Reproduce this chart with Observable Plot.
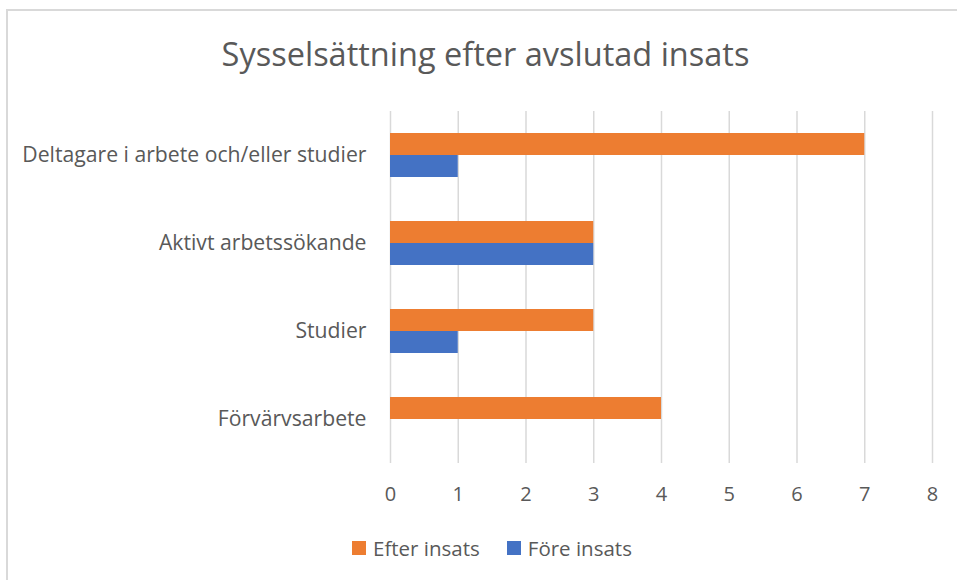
<!DOCTYPE html>
<html>
<head>
<meta charset="utf-8">
<script src="https://cdn.jsdelivr.net/npm/d3@7"></script>
<script src="https://cdn.jsdelivr.net/npm/@observablehq/plot@0.6"></script>
<style>
  html, body { margin: 0; padding: 0; background: #fff; }
  body { width: 957px; height: 580px; position: relative; overflow: hidden; font-family: "Open Sans", sans-serif; color: #595959; }
  #frame { position: absolute; left: 6px; top: 9px; width: 1000px; height: 700px; border: 2px solid #d9d9d9; box-sizing: border-box; }
  #title { position: absolute; left: 0; width: 971px; top: 33px; text-align: center; font-size: 32.5px; line-height: 42px; color: #595959; }
  #chart { position: absolute; left: 0; top: 100px; }
  #legend { position: absolute; left: 352px; top: 537px; display: flex; align-items: center; font-size: 20.5px; line-height: 22px; }
  .item { display: flex; align-items: center; margin-right: 27px; }
  .sw { width: 14px; height: 14px; margin-right: 7px; }
  #chart svg g[aria-label="fy-axis tick label"] { font-size: 21.2px; }
</style>
</head>
<body>
<div id="frame"></div>
<div id="title">Sysselsättning efter avslutad insats</div>
<div id="chart"></div>
<div id="legend"></div>
<script>
const categories = ["Deltagare i arbete och/eller studier", "Aktivt arbetssökande", "Studier", "Förvärvsarbete"];
const seriesNames = ["Efter insats", "Före insats"];
const efterInsats = [7, 3, 3, 4];
const foreInsats = [1, 3, 1, 0];
const xTicks = [0, 1, 2, 3, 4, 5, 6, 7, 8];
const seriesColors = ["#ED7D31", "#4472C4"];

const data = categories.flatMap((c, i) => [
  {category: c, series: seriesNames[0], value: efterInsats[i]},
  {category: c, series: seriesNames[1], value: foreInsats[i]}
]);

const chart = Plot.plot({
  width: 957,
  height: 420,
  marginLeft: 390,
  marginRight: 25,
  marginTop: 10,
  marginBottom: 57,
  style: {fontFamily: "'Open Sans', sans-serif", fontSize: "20px", color: "#595959", background: "transparent"},
  x: {domain: [0, 8], ticks: xTicks, tickSize: 0, tickPadding: 23, label: null, tickFormat: d => String(d)},
  fy: {domain: categories, padding: 0, label: null, tickSize: 0, tickPadding: 24, axis: "left"},
  y: {domain: seriesNames, paddingInner: 0, paddingOuter: 0.92, axis: null},
  color: {domain: seriesNames, range: seriesColors},
  marks: [
    Plot.ruleX(xTicks, {stroke: "#d9d9d9", strokeWidth: 1.5}),
    Plot.barX(data, {fy: "category", y: "series", x: "value", fill: "series"})
  ]
});
document.getElementById("chart").appendChild(chart);

const legend = document.getElementById("legend");
seriesNames.forEach((s, i) => {
  const item = document.createElement("div");
  item.className = "item";
  const sw = document.createElement("div");
  sw.className = "sw";
  sw.style.background = seriesColors[i];
  const label = document.createElement("span");
  label.textContent = s;
  item.appendChild(sw);
  item.appendChild(label);
  legend.appendChild(item);
});
</script>
</body>
</html>
